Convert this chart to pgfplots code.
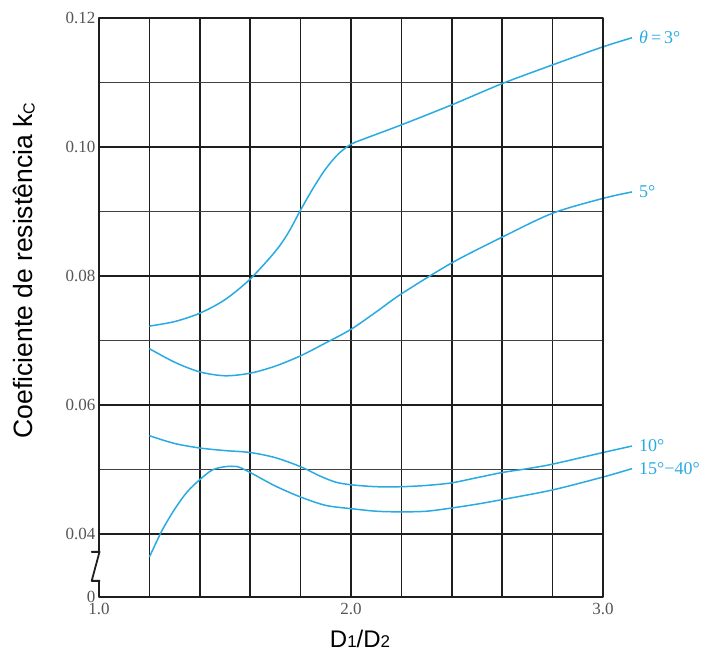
\documentclass[border=0pt]{standalone}
\usepackage{fontspec}
\setmainfont{Liberation Serif}
\newfontfamily\arial{Liberation Sans}
\usepackage{pgfplots}
\pgfplotsset{compat=1.18}
\definecolor{curve}{RGB}{41,171,226}
\definecolor{gridc}{RGB}{30,30,30}
\definecolor{tickc}{RGB}{85,85,85}

\begin{document}
\begin{tikzpicture}
\useasboundingbox (-99pt,-58pt) rectangle (609pt,597pt);
\begin{axis}[
 at={(0,0)}, anchor=south west,
 scale only axis, width=504pt, height=579.2pt,
 xmin=1, xmax=3, ymin=0.0302, ymax=0.12,
 xtick={2}, xticklabels={2.0},
 extra x ticks={1,3}, extra x tick labels={1.0,3.0},
 extra x tick style={grid=none},
 minor xtick={1.2,1.4,1.6,1.8,2.2,2.4,2.6,2.8},
 ytick={0.0302,0.04,0.06,0.08,0.10,0.12},
 yticklabels={0,0.04,0.06,0.08,0.10,0.12},
 minor ytick={0.05,0.07,0.09,0.11},
 grid=both,
 major grid style={draw=gridc, line width=2.4pt},
 minor grid style={draw=gridc!85!white, line width=1.3pt},
 major x grid style={draw=gridc, line width=2pt},
 minor x grid style={draw=gridc, line width=1.7pt},
 axis line style={draw=none},
 major tick length=0pt, minor tick length=0pt,
 tick style={draw=none},
 ticklabel style={font=\fontsize{17}{17}\selectfont, text=tickc},
 xticklabel style={yshift=-3pt},
 /pgf/number format/assume math mode=true,
 clip=false,
]
\addplot[curve, line width=1.5pt, smooth] coordinates {
(1.2,0.0722) (1.3,0.0729) (1.4,0.0742) (1.5,0.0763) (1.6,0.0795) (1.7,0.0838) (1.75,0.0866) (1.8,0.0902) (1.85,0.0936) (1.9,0.0966) (1.95,0.0989) (2.0,0.1004) (2.05,0.1012) (2.2,0.1034) (2.4,0.1065) (2.6,0.1098) (2.8,0.1127) (3.0,0.1155) (3.115,0.1169)};
\addplot[curve, line width=1.5pt, smooth] coordinates {
(1.2,0.0687) (1.3,0.0666) (1.4,0.0651) (1.5,0.0645) (1.6,0.0649) (1.7,0.0660) (1.8,0.0676) (1.9,0.0696) (2.0,0.0717) (2.1,0.0744) (2.2,0.0772) (2.4,0.0820) (2.6,0.0860) (2.8,0.0897) (3.0,0.0920) (3.115,0.0930)};
\addplot[curve, line width=1.5pt, smooth] coordinates {
(1.2,0.0552) (1.3,0.0540) (1.4,0.0533) (1.5,0.0529) (1.6,0.0526) (1.7,0.0518) (1.8,0.0504) (1.88,0.0489) (1.94,0.0480) (2.0,0.0476) (2.1,0.0473) (2.2,0.0473) (2.3,0.0475) (2.4,0.0479) (2.5,0.0487) (2.6,0.0495) (2.7,0.0501) (2.8,0.0508) (3.0,0.0526) (3.115,0.0536)};
\addplot[curve, line width=1.5pt, smooth] coordinates {
(1.2,0.0364) (1.25,0.0405) (1.3,0.0438) (1.35,0.0465) (1.4,0.0484) (1.45,0.0499) (1.5,0.0504) (1.55,0.0504) (1.6,0.0495) (1.7,0.0474) (1.8,0.0457) (1.9,0.0444) (2.0,0.0439) (2.1,0.0435) (2.2,0.0434) (2.3,0.0435) (2.4,0.0440) (2.5,0.0446) (2.6,0.0453) (2.8,0.0468) (3.0,0.0488) (3.115,0.0501)};

\draw[line width=2.5pt, gridc, line join=round, line cap=round]
 (axis cs:1,0.0327) -- (axis cs:1,0.0302) -- (axis cs:3,0.0302) -- (axis cs:3,0.12) -- (axis cs:1,0.12) -- (axis cs:1,0.0372);
\draw[line width=1.8pt, gridc, line join=round, line cap=round]
 (axis cs:0.971,0.0372) -- (axis cs:1.002,0.0372) -- (axis cs:0.971,0.0327) -- (axis cs:1.002,0.0327);

\node[text=curve, anchor=west, inner sep=0pt, font=\fontsize{18}{18}\selectfont] at ([xshift=7pt]axis cs:3.115,0.1169) {\textit{θ}\,=\,3°};
\node[text=curve, anchor=west, inner sep=0pt, font=\fontsize{18}{18}\selectfont] at ([xshift=7pt]axis cs:3.115,0.0930) {5°};
\node[text=curve, anchor=west, inner sep=0pt, font=\fontsize{18}{18}\selectfont] at ([xshift=7pt]axis cs:3.115,0.0536) {10°};
\node[text=curve, anchor=west, inner sep=0pt, font=\fontsize{18}{18}\selectfont] at ([xshift=7pt]axis cs:3.115,0.0501) {15°−40°};

\node[rotate=90, anchor=center, inner sep=0pt, font=\arial\fontsize{26.5}{26.5}\selectfont] at ([xshift=-75pt]axis cs:1,0.0808) {Coeficiente de resistência k\raisebox{-2pt}{\fontsize{16}{16}\selectfont C}};
\node[anchor=base, inner sep=0pt, font=\arial\fontsize{24}{24}\selectfont] at ([yshift=-50pt]axis cs:2.036,0.0302) {D{\fontsize{17}{17}\selectfont 1}/D{\fontsize{17}{17}\selectfont 2}};
\end{axis}
\end{tikzpicture}
\end{document}
